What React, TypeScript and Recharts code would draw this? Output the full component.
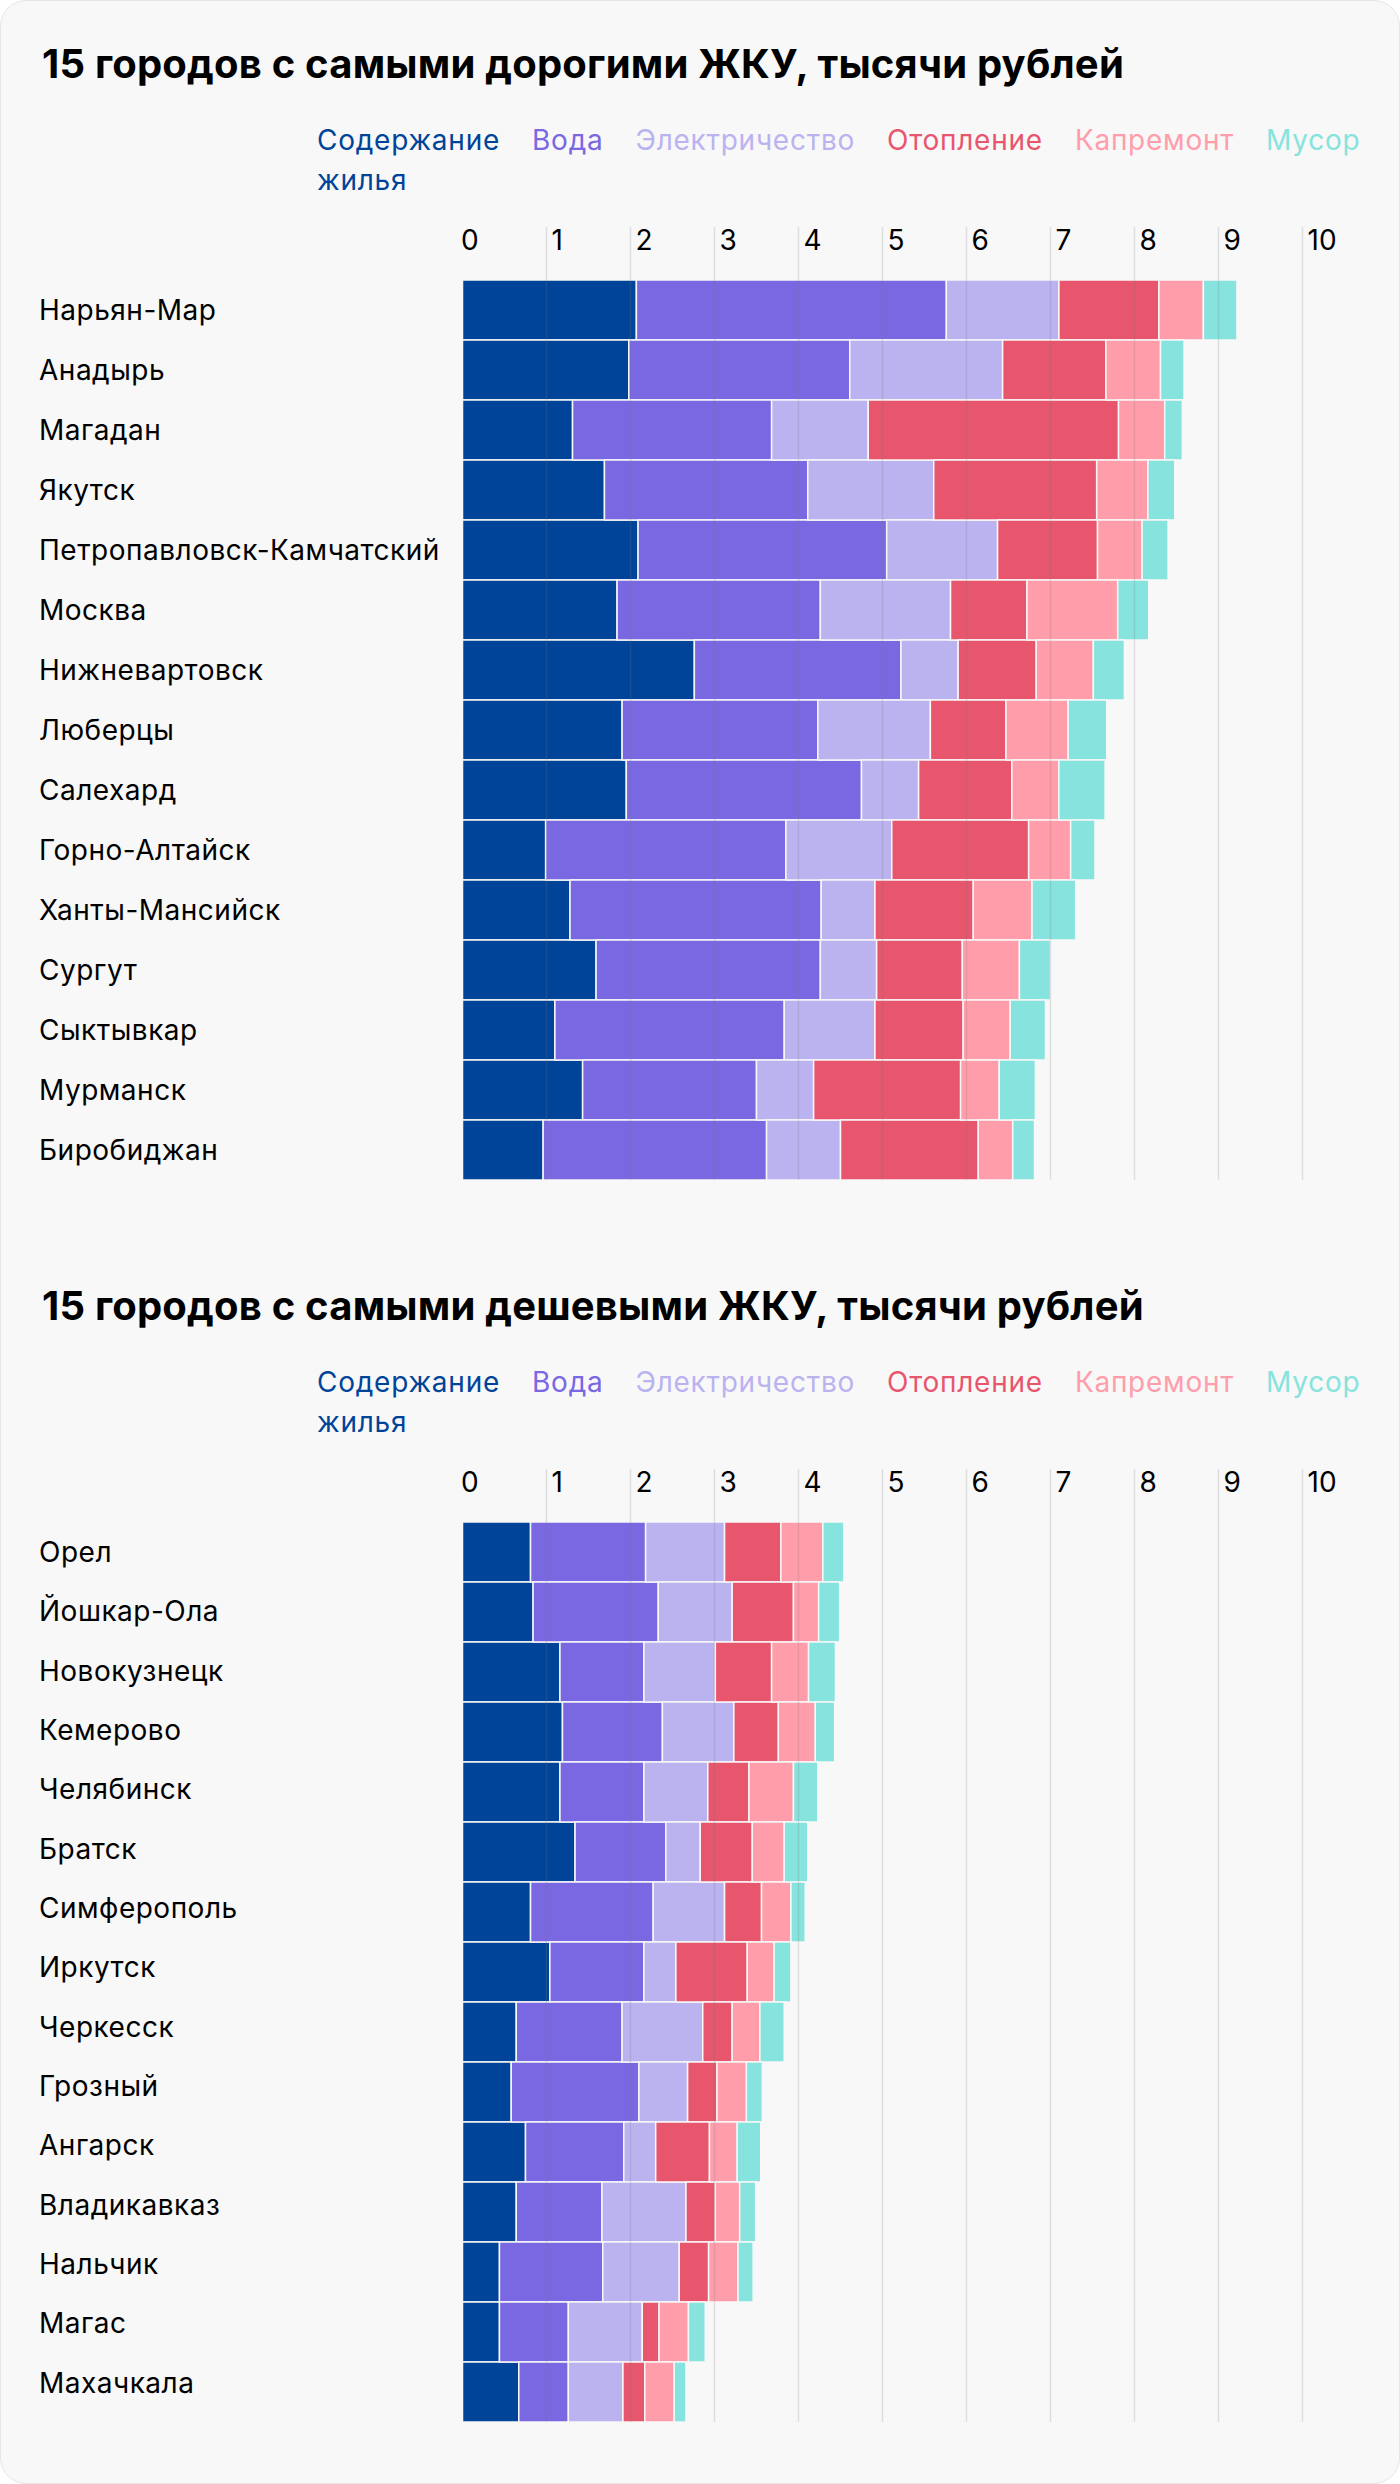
import React from 'react';
import { BarChart, Bar, XAxis, YAxis, ReferenceLine } from 'recharts';

const seriesKeys = ['housing', 'water', 'power', 'heat', 'repair', 'trash'];
const seriesNames = ['Содержание жилья', 'Вода', 'Электричество', 'Отопление', 'Капремонт', 'Мусор'];
const seriesColors = ['#004499', '#7a68e3', '#bab3f0', '#e8566e', '#ff9daa', '#86e3dd'];

const axisTicks = [0, 1, 2, 3, 4, 5, 6, 7, 8, 9, 10];

const expTitle = '15 городов с самыми дорогими ЖКУ, тысячи рублей';
const expCities = ['Нарьян-Мар', 'Анадырь', 'Магадан', 'Якутск', 'Петропавловск-Камчатский', 'Москва', 'Нижневартовск', 'Люберцы', 'Салехард', 'Горно-Алтайск', 'Ханты-Мансийск', 'Сургут', 'Сыктывкар', 'Мурманск', 'Биробиджан'];
const expHousing = [2.07, 1.98, 1.31, 1.69, 2.09, 1.84, 2.76, 1.90, 1.95, 0.99, 1.28, 1.59, 1.10, 1.43, 0.96];
const expWater = [3.69, 2.63, 2.37, 2.42, 2.96, 2.42, 2.46, 2.33, 2.80, 2.86, 2.99, 2.67, 2.73, 2.07, 2.66];
const expPower = [1.34, 1.82, 1.15, 1.50, 1.32, 1.55, 0.68, 1.34, 0.68, 1.26, 0.64, 0.67, 1.08, 0.68, 0.88];
const expHeat = [1.19, 1.23, 2.98, 1.94, 1.19, 0.91, 0.93, 0.90, 1.11, 1.63, 1.17, 1.02, 1.05, 1.75, 1.64];
const expRepair = [0.53, 0.65, 0.55, 0.61, 0.53, 1.08, 0.68, 0.74, 0.56, 0.50, 0.70, 0.68, 0.56, 0.46, 0.41];
const expTrash = [0.40, 0.28, 0.21, 0.32, 0.31, 0.37, 0.37, 0.46, 0.55, 0.29, 0.52, 0.37, 0.42, 0.43, 0.26];

const cheapTitle = '15 городов с самыми дешевыми ЖКУ, тысячи рублей';
const cheapCities = ['Орел', 'Йошкар-Ола', 'Новокузнецк', 'Кемерово', 'Челябинск', 'Братск', 'Симферополь', 'Иркутск', 'Черкесск', 'Грозный', 'Ангарск', 'Владикавказ', 'Нальчик', 'Магас', 'Махачкала'];
const cheapHousing = [0.81, 0.84, 1.16, 1.19, 1.16, 1.34, 0.81, 1.04, 0.64, 0.58, 0.75, 0.64, 0.44, 0.44, 0.67];
const cheapWater = [1.37, 1.49, 1.00, 1.19, 1.00, 1.08, 1.46, 1.12, 1.26, 1.52, 1.17, 1.02, 1.23, 0.82, 0.59];
const cheapPower = [0.94, 0.88, 0.85, 0.85, 0.76, 0.41, 0.85, 0.38, 0.96, 0.58, 0.38, 1.00, 0.91, 0.88, 0.65];
const cheapHeat = [0.67, 0.73, 0.67, 0.53, 0.49, 0.62, 0.44, 0.85, 0.35, 0.35, 0.64, 0.35, 0.35, 0.20, 0.26];
const cheapRepair = [0.50, 0.30, 0.44, 0.44, 0.53, 0.38, 0.35, 0.32, 0.33, 0.35, 0.33, 0.29, 0.35, 0.35, 0.35];
const cheapTrash = [0.25, 0.25, 0.32, 0.23, 0.29, 0.28, 0.17, 0.20, 0.29, 0.19, 0.28, 0.19, 0.18, 0.20, 0.14];

const FONT = "Inter, 'Noto Sans', sans-serif";
const BG = '#f8f8f8';

function buildRows(cities: string[], cols: number[][]) {
  return cities.map((city, i) => {
    const row: Record<string, any> = { city };
    seriesKeys.forEach((k, j) => {
      row[k] = cols[j][i];
    });
    return row;
  });
}

const XTick = (props: any) => {
  const { x, y, payload } = props;
  const v = payload.value;
  return (
    <g>
      {v > 0 && (
        <line x1={x} x2={x} y1={y - 23} y2={y + 30} stroke="rgba(120,120,120,0.2)" strokeWidth={1.5} />
      )}
      <text x={v === 0 ? x - 1.5 : x + 5} y={y} fontFamily={FONT} fontSize={28} fill="#000" textAnchor="start">
        {v}
      </text>
    </g>
  );
};

const makeYTick = (drift: number) => (props: any) => {
  const { y, payload, index } = props;
  return (
    <text x={38} y={y - (index || 0) * drift} dy="0.36em" fontFamily={FONT} fontSize={28} letterSpacing={0.5} fill="#000" textAnchor="start">
      {payload.value}
    </text>
  );
};

function Section({ title, rows, top, drift }: { title: string; rows: any[]; top: number; drift: number }) {
  const YTick = makeYTick(drift);
  return (
    <>
      <div
        style={{
          position: 'absolute',
          left: 41,
          top: top + 38.5,
          fontFamily: FONT,
          fontWeight: 700,
          fontSize: 40,
          lineHeight: '48px',
          color: '#000',
          whiteSpace: 'nowrap',
          letterSpacing: '0.2px',
        }}
      >
        {title}
      </div>
      <div
        style={{
          position: 'absolute',
          left: 316,
          top: top + 119,
          display: 'flex',
          gap: 32,
          fontFamily: FONT,
          fontSize: 28,
          lineHeight: '40px',
          letterSpacing: '0.75px',
        }}
      >
        {seriesNames.map((n, i) => (
          <div key={n} style={{ color: seriesColors[i], width: i === 0 ? 'min-content' : 'auto', whiteSpace: i === 0 ? 'normal' : 'nowrap' }}>
            {n}
          </div>
        ))}
      </div>
      <div style={{ position: 'absolute', left: 0, top: top + 199 }}>
        <BarChart
          width={1398}
          height={990}
          data={rows}
          layout="vertical"
          margin={{ top: 20, right: 96.5, bottom: 10, left: 0 }}
          barCategoryGap={0}
        >
          <XAxis
            type="number"
            orientation="top"
            domain={[0, 10]}
            ticks={axisTicks}
            interval={0}
            axisLine={false}
            tickLine={false}
            tickSize={0}
            tickMargin={30}
            height={60}
            tick={<XTick />}
          />
          <YAxis
            type="category"
            dataKey="city"
            width={461.5}
            axisLine={false}
            tickLine={false}
            interval={0}
            tick={<YTick />}
          />
          {seriesKeys.map((k, i) => (
            <Bar
              key={k}
              dataKey={k}
              name={seriesNames[i]}
              stackId="s"
              fill={seriesColors[i]}
              stroke={BG}
              strokeWidth={1.5}
              isAnimationActive={false}
            />
          ))}
          {axisTicks.slice(1).map((t) => (
            <ReferenceLine key={t} x={t} stroke="rgba(120,120,120,0.2)" strokeWidth={1.5} />
          ))}
        </BarChart>
      </div>
    </>
  );
}

export default function App() {
  const expRows = buildRows(expCities, [expHousing, expWater, expPower, expHeat, expRepair, expTrash]);
  const cheapRows = buildRows(cheapCities, [cheapHousing, cheapWater, cheapPower, cheapHeat, cheapRepair, cheapTrash]);
  return (
    <div
      style={{
        position: 'absolute',
        left: 0,
        top: 0,
        width: 1400,
        height: 2484,
        boxSizing: 'border-box',
        border: '1.5px solid #e6e6e6',
        borderRadius: 26,
        background: BG,
        overflow: 'hidden',
      }}
    >
      <Section title={expTitle} rows={expRows} top={0} drift={0} />
      <Section title={cheapTitle} rows={cheapRows} top={1242} drift={0.68} />
    </div>
  );
}
